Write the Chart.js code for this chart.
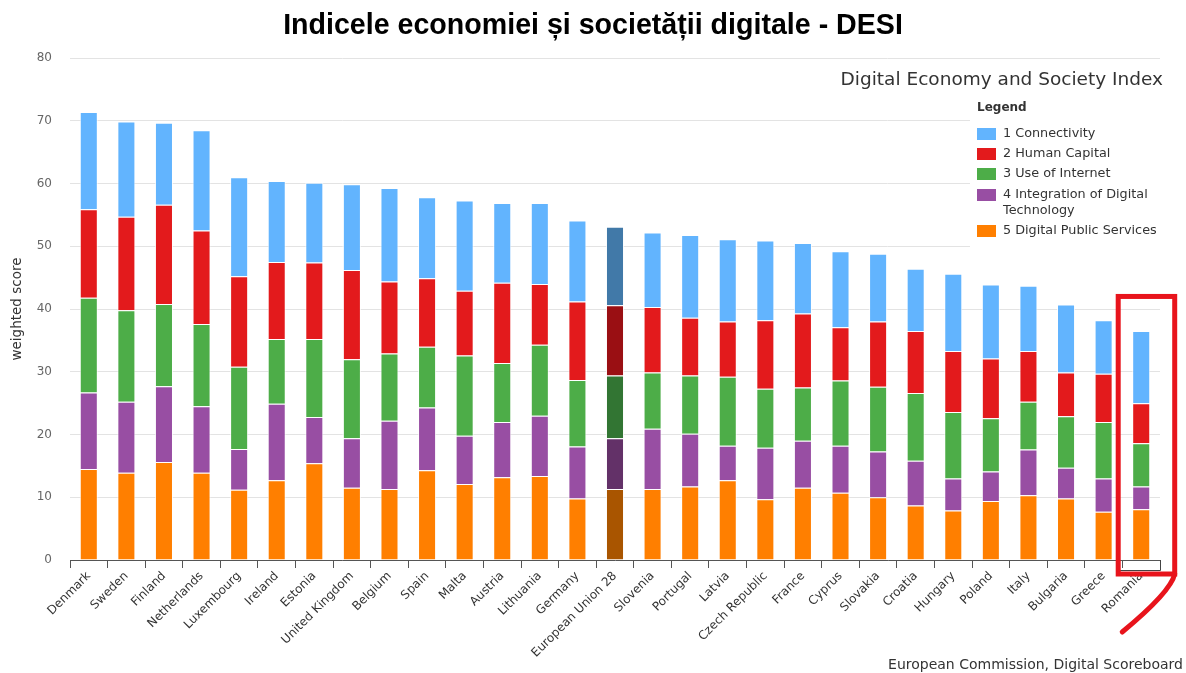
<!DOCTYPE html>
<html>
<head>
<meta charset="utf-8">
<script src="https://cdn.jsdelivr.net/npm/chart.js@4/dist/chart.umd.min.js"></script>
<style>
  html, body { margin: 0; padding: 0; background: #fff; }
  #wrap { width: 1186px; height: 673px; position: relative; }
</style>
</head>
<body>
<div id="wrap"><canvas id="desi" width="1186" height="673"></canvas></div>
<script>
// DESI weighted scores per country, one array per dimension
const countries = ['Denmark', 'Sweden', 'Finland', 'Netherlands', 'Luxembourg', 'Ireland', 'Estonia',
  'United Kingdom', 'Belgium', 'Spain', 'Malta', 'Austria', 'Lithuania', 'Germany', 'European Union 28',
  'Slovenia', 'Portugal', 'Latvia', 'Czech Republic', 'France', 'Cyprus', 'Slovakia', 'Croatia',
  'Hungary', 'Poland', 'Italy', 'Bulgaria', 'Greece', 'Romania'];

const digitalPublicServices = [14.5, 13.9, 15.6, 13.9, 11.2, 12.7, 15.4, 11.5, 11.3, 14.3, 12.1, 13.2, 13.4, 9.8, 11.3,
  11.3, 11.7, 12.7, 9.7, 11.5, 10.7, 10.0, 8.7, 7.9, 9.4, 10.3, 9.8, 7.7, 8.1];
const integrationDigitalTech = [12.2, 11.3, 12.1, 10.6, 6.5, 12.2, 7.4, 7.9, 10.9, 10.0, 7.7, 8.8, 9.6, 8.3, 8.1,
  9.6, 8.4, 5.5, 8.2, 7.5, 7.5, 7.3, 7.1, 5.1, 4.7, 7.3, 4.9, 5.3, 3.6];
const useOfInternet = [15.1, 14.6, 13.1, 13.1, 13.1, 10.3, 12.4, 12.6, 10.7, 9.7, 12.8, 9.4, 11.3, 10.6, 10.0,
  9.0, 9.3, 11.0, 9.4, 8.5, 10.4, 10.3, 10.8, 10.6, 8.5, 7.6, 8.2, 9.0, 6.9];
const humanCapital = [14.1, 14.9, 15.8, 14.9, 14.4, 12.3, 12.2, 14.2, 11.5, 10.9, 10.3, 12.8, 9.7, 12.5, 11.2,
  10.4, 9.2, 8.8, 10.9, 11.8, 8.5, 10.4, 9.9, 9.7, 9.5, 8.1, 7.0, 7.7, 6.4];
const connectivity = [15.5, 15.2, 13.1, 16.0, 15.8, 12.9, 12.7, 13.7, 14.9, 12.9, 14.4, 12.7, 12.9, 12.9, 12.5,
  11.9, 13.2, 13.1, 12.7, 11.2, 12.1, 10.8, 9.9, 12.3, 11.8, 10.4, 10.8, 8.5, 11.5];

const seriesLabels = ['5 Digital Public Services', '4 Integration of Digital Technology', '3 Use of Internet',
  '2 Human Capital', '1 Connectivity'];
const yTicks = [0, 10, 20, 30, 40, 50, 60, 70, 80];

const chartTitle = 'Indicele economiei și societății digitale - DESI';
const euLabel = 'European Union 28';
const highlighted = 'Romania';

// base colour and the darker shade used for the EU average column
const palette = [
  ['#ff7f00', '#a95500'],
  ['#984ea3', '#633168'],
  ['#4dad48', '#327533'],
  ['#e31a1c', '#9a0f13'],
  ['#62b4fe', '#4179a8']
];

const seriesValues = [digitalPublicServices, integrationDigitalTech, useOfInternet, humanCapital, connectivity];

const FONT = 'DejaVu Sans';
Chart.defaults.font.family = FONT;

const datasets = seriesValues.map((vals, i) => ({
  label: seriesLabels[i],
  data: vals,
  backgroundColor: countries.map(c => c === euLabel ? palette[i][1] : palette[i][0]),
  borderColor: 'rgba(255,255,255,0.75)',
  borderWidth: 1,
  barPercentage: 0.48,
  categoryPercentage: 1.0
}));

// title, subtitle, legend panel, source line and the highlight frame
const overlay = {
  id: 'overlay',
  afterDraw(chart) {
    const ctx = chart.ctx;
    const xs = chart.scales.x, ys = chart.scales.y;
    ctx.save();

    ctx.fillStyle = '#000';
    ctx.textBaseline = 'middle';
    ctx.textAlign = 'center';
    ctx.font = 'bold 28.6px "Liberation Sans"';
    ctx.fillText(chartTitle, chart.width / 2, 26);

    // legend panel (covers the gridlines behind it)
    ctx.fillStyle = '#fff';
    ctx.fillRect(970, 95, 216, 152);

    ctx.fillStyle = '#333';
    ctx.textAlign = 'right';
    ctx.font = '18.5px "' + FONT + '"';
    ctx.fillText('Digital Economy and Society Index', 1163, 80);

    ctx.textAlign = 'left';
    ctx.font = 'bold 12px "' + FONT + '"';
    ctx.fillText('Legend', 977, 108);

    ctx.font = '12.8px "' + FONT + '"';
    const rows = [134, 154, 174, 195, 231];
    const ds = chart.data.datasets.slice().reverse();
    ds.forEach((d, k) => {
      const y = rows[k];
      ctx.fillStyle = palette[palette.length - 1 - k][0];
      ctx.fillRect(977, y - 6, 19, 12);
      ctx.fillStyle = '#333';
      const label = d.label;
      if (label.indexOf('Integration') >= 0) {
        ctx.fillText('4 Integration of Digital', 1003, y);
        ctx.fillText('Technology', 1003, y + 16);
      } else {
        ctx.fillText(label, 1003, y);
      }
    });

    ctx.textAlign = 'right';
    ctx.font = '14px "' + FONT + '"';
    ctx.fillStyle = '#333';
    ctx.fillText('European Commission, Digital Scoreboard', 1183, 665);

    // red frame around the highlighted country
    const idx = countries.indexOf(highlighted);
    const cx = xs.getPixelForValue(idx);
    const base = ys.getPixelForValue(0);
    const left = cx - 23, right = cx + 33.5;
    const top = ys.getPixelForValue(42);
    const bottom = base + 14;

    // small axis box closing the last category
    ctx.strokeStyle = '#444';
    ctx.lineWidth = 1;
    ctx.beginPath();
    ctx.moveTo(left, base + 10.5);
    ctx.lineTo(xs.right + 0.5, base + 10.5);
    ctx.lineTo(xs.right + 0.5, base);
    ctx.stroke();

    ctx.strokeStyle = '#e8141c';
    ctx.lineWidth = 5;
    ctx.lineJoin = 'miter';
    ctx.strokeRect(left, top, right - left, bottom - top);
    ctx.beginPath();
    ctx.lineCap = 'round';
    ctx.moveTo(right, bottom);
    ctx.quadraticCurveTo(right - 4, bottom + 18, cx - 19, bottom + 58);
    ctx.stroke();

    ctx.restore();
  }
};

new Chart(document.getElementById('desi'), {
  type: 'bar',
  data: { labels: countries, datasets },
  plugins: [overlay],
  options: {
    responsive: false,
    animation: false,
    devicePixelRatio: 1,
    layout: { padding: { top: 58, right: 26, bottom: 0, left: 0 } },
    plugins: {
      legend: { display: false },
      tooltip: { enabled: false },
      title: { display: false }
    },
    scales: {
      x: {
        stacked: true,
        afterFit(scale) { scale.height = 113; },
        grid: { display: true, drawOnChartArea: false, color: '#555', tickLength: 8, offset: true },
        border: { display: true, color: '#555' },
        ticks: {
          autoSkip: false, maxRotation: 45, minRotation: 45,
          color: '#333', font: { size: 12 }, padding: 1
        }
      },
      y: {
        stacked: true,
        min: 0, max: 80,
        afterFit(scale) { scale.width = 70; },
        afterBuildTicks(scale) { scale.ticks = yTicks.map(v => ({ value: v })); },
        grid: { color: '#e3e3e3', drawTicks: false },
        border: { display: false },
        ticks: { color: '#666', font: { size: 12 }, padding: 18 },
        title: {
          display: true, text: 'weighted score', color: '#333',
          font: { size: 13.5 }, padding: { top: 9, bottom: 0 }
        }
      }
    }
  }
});
</script>
</body>
</html>
